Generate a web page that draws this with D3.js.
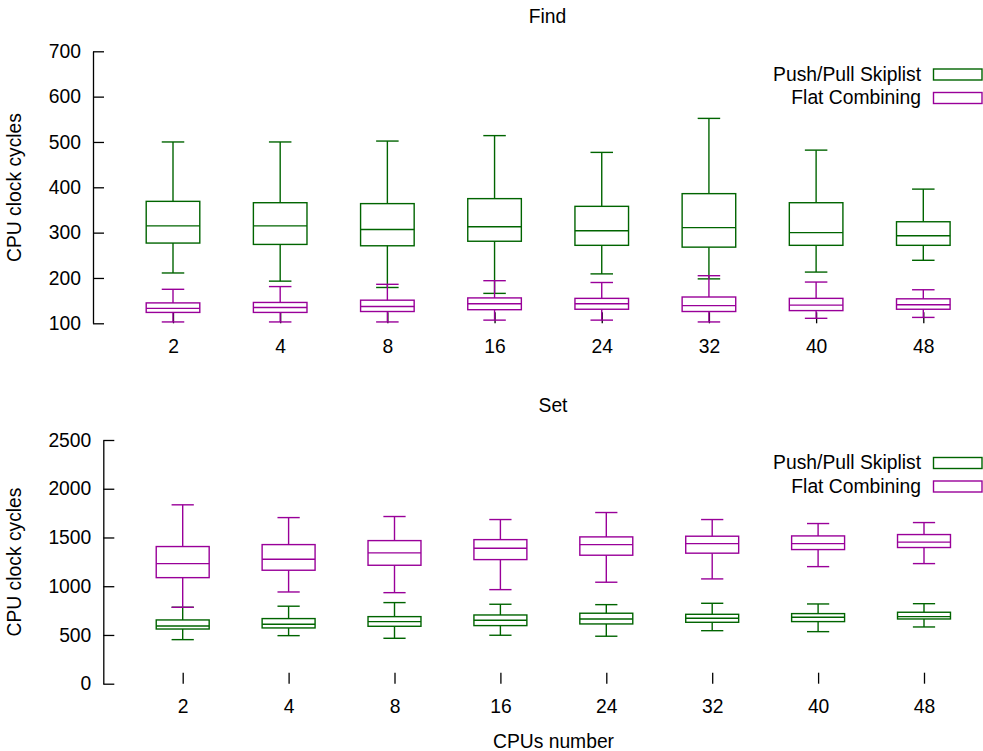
<!DOCTYPE html>
<html>
<head>
<meta charset="utf-8">
<script src="https://cdn.jsdelivr.net/npm/d3@7"></script>
<style>
  html, body { margin: 0; padding: 0; background: #fff; }
  svg text { font-family: "Liberation Sans", Arial, sans-serif; fill: #000; }
</style>
</head>
<body>
<svg id="chart" width="983" height="751"></svg>
<script>
// CPU counts on the x axis
const cpus = ["2", "4", "8", "16", "24", "32", "40", "48"];
const seriesNames = ["Push/Pull Skiplist", "Flat Combining"];

// Find: [min, q1, median, q3, max] per CPU count
const findSkiplist = [
  [211, 277, 315, 369, 500],
  [193, 274, 315, 366, 500],
  [179, 271, 307, 364, 502],
  [166, 281, 313, 375, 514],
  [209, 272, 304, 358, 477],
  [198, 268, 311, 386, 552],
  [213, 272, 300, 366, 482],
  [239, 272, 293, 324, 396]
];
const findFlat = [
  [103, 124, 133, 145, 175],
  [103, 124, 135, 146, 181],
  [103, 126, 137, 151, 186],
  [107, 130, 143, 156, 194],
  [107, 131, 143, 155, 190],
  [103, 126, 139, 158, 205],
  [111, 128, 140, 155, 191],
  [113, 131, 141, 154, 174]
];

// Set: [min, q1, median, q3, max] per CPU count
const setSkiplist = [
  [452, 561, 592, 654, 784],
  [493, 572, 610, 668, 795],
  [466, 589, 637, 688, 832],
  [497, 596, 651, 705, 815],
  [487, 613, 664, 723, 811],
  [544, 630, 671, 712, 825],
  [534, 637, 682, 719, 818],
  [582, 664, 688, 733, 821]
];
const setFlat = [
  [784, 1088, 1232, 1407, 1835],
  [941, 1164, 1277, 1427, 1704],
  [934, 1215, 1342, 1468, 1715],
  [965, 1273, 1390, 1478, 1684],
  [1041, 1318, 1427, 1506, 1756],
  [1075, 1339, 1437, 1513, 1684],
  [1201, 1376, 1437, 1516, 1643],
  [1232, 1397, 1452, 1530, 1653]
];

const findTicks = [100, 200, 300, 400, 500, 600, 700];
const setTicks = [0, 500, 1000, 1500, 2000, 2500];

const colors = ["#006400", "#990099"];
const FONT = 19.3;

const svg = d3.select("#chart");

function panel(cfg) {
  const g = svg.append("g");
  const x = d3.scalePoint().domain(cpus).range(cfg.xRange);
  const y = d3.scaleLinear().domain(cfg.yDomain).range(cfg.yRange);
  const step = x.step();
  const boxHalf = step * 0.25;
  const capHalf = step * 0.105;

  // y axis: left line with inward ticks
  const yAxis = d3.axisLeft(y).tickValues(cfg.yTicks).tickFormat(d3.format("d"))
    .tickSizeInner(-11).tickSizeOuter(0).tickPadding(12);
  const ya = g.append("g").attr("transform", `translate(${cfg.axisX},0)`).call(yAxis);
  ya.select(".domain").attr("stroke", "#000").attr("stroke-width", 1.3);
  ya.selectAll(".tick line").attr("stroke", "#000").attr("stroke-width", 1.3);
  ya.selectAll(".tick text").style("font-size", FONT + "px").attr("fill", "#000");

  // x axis: ticks only, pointing up from the bottom
  const base = y(cfg.yDomain[0]);
  const xAxis = d3.axisBottom(x).tickSizeInner(-11).tickSizeOuter(0).tickPadding(16);
  const xa = g.append("g").attr("transform", `translate(0,${base})`).call(xAxis);
  xa.select(".domain").remove();
  xa.selectAll(".tick line").attr("stroke", "#000").attr("stroke-width", 1.3);
  xa.selectAll(".tick text").style("font-size", FONT + "px").attr("fill", "#000");

  // boxes
  cfg.series.forEach((data, si) => {
    const col = colors[si];
    const sg = g.append("g").attr("stroke", col).attr("fill", "none").attr("stroke-width", 1.4);
    data.forEach((d, i) => {
      const cx = x(cpus[i]);
      const [mn, q1, md, q3, mx] = d;
      sg.append("rect")
        .attr("x", cx - boxHalf).attr("width", boxHalf * 2)
        .attr("y", y(q3)).attr("height", y(q1) - y(q3));
      sg.append("line").attr("x1", cx - boxHalf).attr("x2", cx + boxHalf)
        .attr("y1", y(md)).attr("y2", y(md));
      sg.append("line").attr("x1", cx).attr("x2", cx).attr("y1", y(q3)).attr("y2", y(mx));
      sg.append("line").attr("x1", cx).attr("x2", cx).attr("y1", y(q1)).attr("y2", y(mn));
      sg.append("line").attr("x1", cx - capHalf).attr("x2", cx + capHalf)
        .attr("y1", y(mx)).attr("y2", y(mx));
      sg.append("line").attr("x1", cx - capHalf).attr("x2", cx + capHalf)
        .attr("y1", y(mn)).attr("y2", y(mn));
    });
  });

  // title
  g.append("text").attr("x", cfg.titleX).attr("y", cfg.titleY)
    .attr("text-anchor", "middle").style("font-size", FONT + "px").text(cfg.title);

  // y label
  g.append("text")
    .attr("transform", `translate(21,${cfg.yLabelY}) rotate(-90)`)
    .attr("text-anchor", "middle").style("font-size", FONT + "px")
    .text("CPU clock cycles");

  // legend
  seriesNames.forEach((name, si) => {
    const by = cfg.legendY + si * 23.5;
    g.append("text").attr("x", 921).attr("y", by)
      .attr("text-anchor", "end").style("font-size", FONT + "px").text(name);
    g.append("rect").attr("x", 933.5).attr("y", by - 11.5)
      .attr("width", 48.5).attr("height", 11)
      .attr("fill", "none").attr("stroke", colors[si]).attr("stroke-width", 1.4);
  });
}

panel({
  title: "Find", titleX: 547.5, titleY: 22.5,
  xRange: [173, 923.3], yDomain: [100, 700], yRange: [323.3, 51.3],
  yTicks: findTicks, axisX: 93, yLabelY: 187.5, legendY: 80.5,
  series: [findSkiplist, findFlat]
});

panel({
  title: "Set", titleX: 553, titleY: 411.5,
  xRange: [182.7, 924], yDomain: [0, 2500], yRange: [683.7, 440],
  yTicks: setTicks, axisX: 103.3, yLabelY: 562, legendY: 469,
  series: [setSkiplist, setFlat]
});

// shared x label
svg.append("text").attr("x", 553.5).attr("y", 747.5)
  .attr("text-anchor", "middle").style("font-size", FONT + "px").text("CPUs number");
</script>
</body>
</html>
